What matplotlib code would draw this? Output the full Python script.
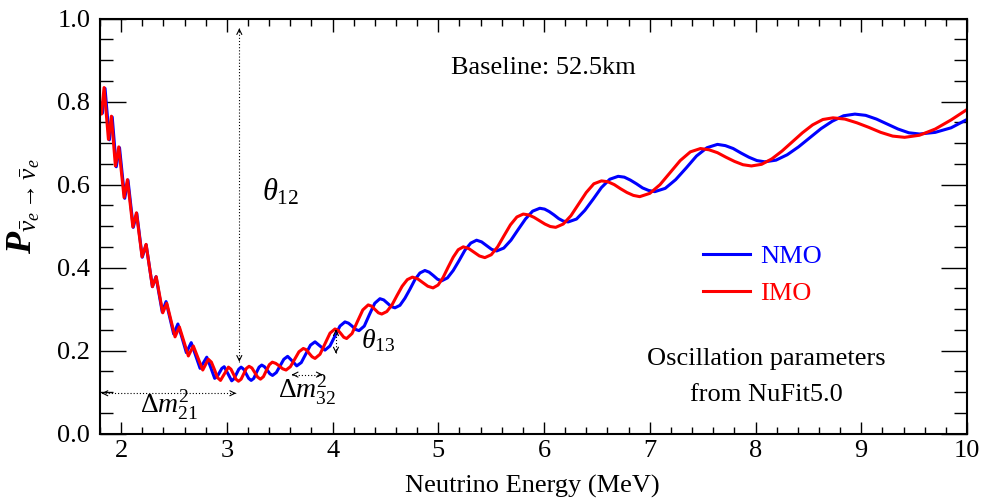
import matplotlib
matplotlib.use("Agg")
import matplotlib.pyplot as plt
from matplotlib.ticker import MultipleLocator, FormatStrFormatter
from matplotlib.lines import Line2D

plt.rcParams['font.family'] = ['Liberation Serif', 'DejaVu Serif']
plt.rcParams['mathtext.fontset'] = 'custom'
plt.rcParams['mathtext.rm'] = 'Liberation Serif'
plt.rcParams['mathtext.it'] = 'Liberation Serif:italic'
plt.rcParams['mathtext.bf'] = 'Liberation Serif:italic:bold'

# ---------------- data ----------------
nmo_energy = [1.800, 1.823, 1.848, 1.889, 1.916, 1.954, 1.985, 2.034, 2.065, 2.115,
              2.148, 2.200, 2.237, 2.296, 2.330, 2.389, 2.425, 2.497, 2.537, 2.577,
              2.617, 2.663, 2.705, 2.747, 2.810, 2.848, 2.885, 2.908, 2.930, 2.953,
              2.975, 3.011, 3.046, 3.068, 3.091, 3.113, 3.135, 3.159, 3.183, 3.206,
              3.230, 3.255, 3.280, 3.305, 3.330, 3.356, 3.381, 3.407, 3.432, 3.468,
              3.504, 3.539, 3.575, 3.618, 3.661, 3.704, 3.748, 3.791, 3.834, 3.881,
              3.928, 3.975, 4.023, 4.070, 4.117, 4.150, 4.184, 4.217, 4.250, 4.300,
              4.349, 4.399, 4.448, 4.484, 4.519, 4.555, 4.590, 4.637, 4.684, 4.732,
              4.779, 4.826, 4.873, 4.913, 4.952, 4.992, 5.031, 5.086, 5.141, 5.197,
              5.252, 5.307, 5.362, 5.409, 5.457, 5.504, 5.551, 5.619, 5.687, 5.756,
              5.824, 5.892, 5.960, 6.005, 6.049, 6.094, 6.139, 6.183, 6.228, 6.307,
              6.386, 6.465, 6.543, 6.622, 6.701, 6.759, 6.816, 6.874, 6.932, 6.989,
              7.047, 7.146, 7.245, 7.344, 7.442, 7.541, 7.640, 7.715, 7.789, 7.864,
              7.938, 8.013, 8.087, 8.194, 8.300, 8.407, 8.514, 8.620, 8.727, 8.833,
              8.940, 9.042, 9.144, 9.246, 9.348, 9.450, 9.552, 9.700, 9.850, 10.000]
nmo_prob = [0.800, 0.772, 0.832, 0.708, 0.763, 0.643, 0.689, 0.567, 0.611, 0.497,
            0.531, 0.425, 0.455, 0.354, 0.378, 0.293, 0.318, 0.240, 0.264, 0.230,
            0.195, 0.219, 0.188, 0.157, 0.184, 0.159, 0.133, 0.137, 0.147, 0.157,
            0.161, 0.144, 0.127, 0.132, 0.144, 0.155, 0.160, 0.155, 0.144, 0.133,
            0.128, 0.133, 0.147, 0.160, 0.165, 0.161, 0.153, 0.144, 0.140, 0.147,
            0.163, 0.179, 0.186, 0.175, 0.163, 0.171, 0.192, 0.213, 0.221, 0.211,
            0.201, 0.211, 0.235, 0.259, 0.269, 0.266, 0.259, 0.251, 0.248, 0.259,
            0.287, 0.314, 0.325, 0.322, 0.314, 0.306, 0.303, 0.309, 0.326, 0.348,
            0.371, 0.387, 0.393, 0.389, 0.381, 0.372, 0.368, 0.375, 0.393, 0.417,
            0.442, 0.459, 0.466, 0.462, 0.453, 0.444, 0.440, 0.447, 0.466, 0.492,
            0.517, 0.536, 0.543, 0.541, 0.535, 0.527, 0.518, 0.512, 0.510, 0.517,
            0.538, 0.565, 0.593, 0.613, 0.620, 0.618, 0.611, 0.602, 0.592, 0.586,
            0.583, 0.591, 0.612, 0.640, 0.669, 0.689, 0.697, 0.694, 0.687, 0.676,
            0.666, 0.658, 0.655, 0.659, 0.672, 0.691, 0.713, 0.735, 0.753, 0.766,
            0.770, 0.767, 0.758, 0.746, 0.734, 0.725, 0.722, 0.726, 0.737, 0.757]

imo_energy = [1.800, 1.814, 1.839, 1.880, 1.908, 1.946, 1.978, 2.028, 2.060, 2.111,
              2.145, 2.198, 2.236, 2.296, 2.332, 2.394, 2.432, 2.510, 2.551, 2.594,
              2.636, 2.683, 2.728, 2.772, 2.825, 2.854, 2.883, 2.911, 2.940, 2.978,
              3.015, 3.039, 3.063, 3.086, 3.110, 3.135, 3.160, 3.185, 3.210, 3.237,
              3.264, 3.291, 3.318, 3.346, 3.374, 3.402, 3.430, 3.463, 3.495, 3.528,
              3.560, 3.601, 3.642, 3.682, 3.723, 3.751, 3.779, 3.806, 3.834, 3.881,
              3.929, 3.976, 4.023, 4.051, 4.078, 4.106, 4.133, 4.184, 4.235, 4.286,
              4.337, 4.369, 4.401, 4.433, 4.465, 4.513, 4.562, 4.610, 4.658, 4.707,
              4.755, 4.804, 4.853, 4.901, 4.950, 4.998, 5.045, 5.093, 5.141, 5.188,
              5.236, 5.287, 5.338, 5.389, 5.440, 5.501, 5.561, 5.622, 5.682, 5.743,
              5.803, 5.854, 5.906, 5.957, 6.008, 6.059, 6.110, 6.182, 6.254, 6.327,
              6.399, 6.471, 6.543, 6.603, 6.664, 6.724, 6.784, 6.845, 6.905, 7.001,
              7.097, 7.193, 7.288, 7.384, 7.480, 7.560, 7.640, 7.721, 7.801, 7.881,
              7.961, 8.058, 8.154, 8.251, 8.347, 8.444, 8.540, 8.637, 8.733, 8.846,
              8.959, 9.072, 9.184, 9.297, 9.410, 9.550, 9.700, 9.850, 10.000]
imo_prob = [0.792, 0.770, 0.834, 0.709, 0.765, 0.645, 0.691, 0.569, 0.612, 0.498,
            0.532, 0.426, 0.456, 0.354, 0.378, 0.291, 0.314, 0.233, 0.257, 0.222,
            0.187, 0.211, 0.182, 0.153, 0.179, 0.172, 0.154, 0.135, 0.128, 0.144,
            0.160, 0.155, 0.143, 0.131, 0.126, 0.131, 0.144, 0.157, 0.162, 0.158,
            0.147, 0.136, 0.131, 0.137, 0.152, 0.166, 0.172, 0.169, 0.163, 0.156,
            0.153, 0.161, 0.179, 0.197, 0.205, 0.202, 0.193, 0.185, 0.181, 0.191,
            0.217, 0.242, 0.252, 0.249, 0.241, 0.232, 0.229, 0.241, 0.270, 0.298,
            0.310, 0.307, 0.299, 0.291, 0.288, 0.294, 0.310, 0.333, 0.355, 0.371,
            0.377, 0.373, 0.364, 0.355, 0.351, 0.358, 0.376, 0.401, 0.425, 0.443,
            0.450, 0.446, 0.437, 0.428, 0.424, 0.431, 0.450, 0.477, 0.503, 0.522,
            0.529, 0.527, 0.521, 0.513, 0.505, 0.499, 0.497, 0.505, 0.525, 0.553,
            0.581, 0.602, 0.609, 0.607, 0.600, 0.590, 0.581, 0.574, 0.571, 0.579,
            0.600, 0.629, 0.658, 0.679, 0.687, 0.684, 0.677, 0.666, 0.656, 0.648,
            0.645, 0.649, 0.662, 0.681, 0.703, 0.725, 0.744, 0.757, 0.761, 0.758,
            0.749, 0.738, 0.726, 0.717, 0.714, 0.719, 0.734, 0.756, 0.781]

series_labels = ['NMO', 'IMO']
series_colors = ['#0000ff', '#ff0000']

x_range = (1.8, 10.0)
y_range = (0.0, 1.0)
x_label = 'Neutrino Energy (MeV)'
y_label = r'$\mathbf{P}_{\bar{\nu}_e\rightarrow\bar{\nu}_e}$'

# ---------------- figure ----------------
fig = plt.figure(figsize=(9.81, 5.0), dpi=100)
ax = fig.add_axes([0.1019, 0.133, 0.8838, 0.8296])
ax.set_xlim(*x_range)
ax.set_ylim(*y_range)

ax.plot(nmo_energy, nmo_prob, color=series_colors[0], lw=2.2,
        solid_joinstyle='round', solid_capstyle='round')
ax.plot(imo_energy, imo_prob, color=series_colors[1], lw=2.2,
        solid_joinstyle='round', solid_capstyle='round')

for s in ax.spines.values():
    s.set_linewidth(1.5)

ax.xaxis.set_major_locator(MultipleLocator(1))
ax.xaxis.set_minor_locator(MultipleLocator(0.2))
ax.yaxis.set_major_locator(MultipleLocator(0.2))
ax.yaxis.set_minor_locator(MultipleLocator(0.05))
ax.xaxis.set_major_formatter(FormatStrFormatter('%d'))
ax.yaxis.set_major_formatter(FormatStrFormatter('%.1f'))
ax.tick_params(which='both', direction='in', top=True, right=True, width=1.0,
               labelsize=19)
ax.xaxis.set_tick_params(which='major', length=9, pad=5)
ax.xaxis.set_tick_params(which='minor', length=4.7)
ax.yaxis.set_tick_params(which='major', length=18.7, pad=7)
ax.yaxis.set_tick_params(which='minor', length=9.4)

fig.text(0.543, 0.028, x_label, ha='center', va='center', fontsize=19)
fig.text(0.024, 0.587, y_label, rotation=90, ha='center', va='center', fontsize=26)

# legend
handles = [Line2D([], [], color=c, lw=2.2) for c in series_colors]
ax.legend(handles, series_labels, loc='upper left', bbox_to_anchor=(0.7166, 0.51),
          bbox_transform=fig.transFigure, frameon=False, fontsize=19,
          handlelength=1.78, handletextpad=0.38, labelspacing=0.5,
          borderpad=0, borderaxespad=0, labelcolor='linecolor')

# texts
ax.text(5.99, 0.866, 'Baseline: 52.5km', ha='center', va='baseline', fontsize=19)
ax.text(8.106, 0.165, 'Oscillation parameters', ha='center', va='baseline', fontsize=19)
ax.text(8.106, 0.078, 'from NuFit5.0', ha='center', va='baseline', fontsize=19)
ax.text(3.333, 0.562, r'$\theta_{12}$', ha='left', va='baseline', fontsize=22)
ax.text(4.268, 0.206, r'$\theta_{13}$', ha='left', va='baseline', fontsize=20)
ax.text(2.18, 0.049, r'$\Delta m^2_{21}$', ha='left', va='baseline', fontsize=20)
ax.text(3.484, 0.086, r'$\Delta m^2_{32}$', ha='left', va='baseline', fontsize=20)


def dotted_double_arrow(p0, p1, head_frac=0.02):
    ax.plot([p0[0], p1[0]], [p0[1], p1[1]], color='black', lw=0.8,
            linestyle=(0, (1, 1.8)))
    for a, b in ((p0, p1), (p1, p0)):
        tail = (a[0] + (b[0] - a[0]) * head_frac, a[1] + (b[1] - a[1]) * head_frac)
        ax.annotate('', xy=a, xytext=tail,
                    arrowprops=dict(arrowstyle='->', lw=0.8, color='black',
                                    shrinkA=0, shrinkB=0, mutation_scale=9))


dotted_double_arrow((3.118, 0.173), (3.118, 0.977), head_frac=0.01)
dotted_double_arrow((1.815, 0.097), (3.087, 0.097), head_frac=0.01)
dotted_double_arrow((3.614, 0.142), (3.906, 0.142), head_frac=0.05)
dotted_double_arrow((4.032, 0.193), (4.032, 0.251), head_frac=0.1)

fig.savefig('out.png', dpi=100)
